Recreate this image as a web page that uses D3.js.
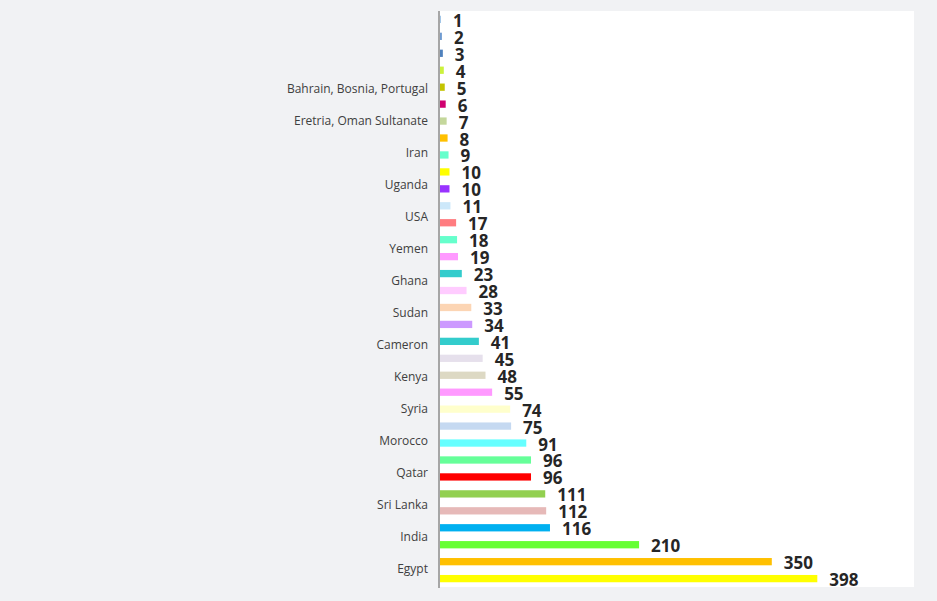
<!DOCTYPE html>
<html>
<head>
<meta charset="utf-8">
<script src="https://cdn.jsdelivr.net/npm/d3@7"></script>
<style>
  body { margin: 0; background: #f1f2f4; }
  svg { display: block; }
</style>
</head>
<body>
<div class="chart"></div>
<script>
// bar values, top to bottom
const values = [1, 2, 3, 4, 5, 6, 7, 8, 9, 10, 10, 11, 17, 18, 19, 23, 28, 33, 34,
  41, 45, 48, 55, 74, 75, 91, 96, 96, 111, 112, 116, 210, 350, 398]

const barColors = ['#9dc3e6', '#6f9bd1', '#4f81bd', '#ccf23c', '#c4c400', '#d0006f',
  '#c4d79b', '#ffc000', '#66ffcc', '#ffff00', '#9933ff', '#cce8fa', '#ff7c80',
  '#66ffcc', '#ff99ff', '#33cccc', '#ffccff', '#fcd5b4', '#cc99ff', '#33cccc',
  '#e6e0ec', '#ddd9c4', '#ff99ff', '#ffffcc', '#c5d9f1', '#66ffff', '#66ff99',
  '#ff0000', '#92d050', '#e6b9b8', '#00b0f0', '#66ff33', '#ffc000', '#ffff00']

// category labels (axis shows 18 slots, first two are empty)
const categories = ['', ' ', 'Bahrain, Bosnia, Portugal', 'Eretria, Oman Sultanate',
  'Iran', 'Uganda', 'USA', 'Yemen', 'Ghana', 'Sudan', 'Cameron', 'Kenya', 'Syria',
  'Morocco', 'Qatar', 'Sri Lanka', 'India', 'Egypt']

const xMaxValue = 500

const width = 937
const height = 601
const plot = { left: 440, right: 914, top: 11, bottom: 587 }

const svg = d3.select('.chart').append('svg')
  .attr('width', width).attr('height', height)

svg.append('rect')
  .attr('x', 0).attr('y', 0).attr('width', width).attr('height', height)
  .attr('fill', '#f1f2f4')

// plot area
svg.append('rect')
  .attr('x', plot.left).attr('y', plot.top)
  .attr('width', plot.right - plot.left).attr('height', plot.bottom - plot.top)
  .attr('fill', '#ffffff')

const xScale = d3.scaleLinear().domain([0, xMaxValue]).range([plot.left, plot.right])
const yBars = d3.scaleBand().domain(d3.range(values.length))
  .range([plot.top, plot.bottom]).paddingInner(0.57).paddingOuter(0.28)
const yCats = d3.scaleBand().domain(categories).range([plot.top, plot.bottom])

// bars
svg.append('g').attr('class', 'bars')
  .selectAll('rect').data(values)
  .enter().append('rect')
  .attr('x', xScale(0))
  .attr('y', (d, i) => yBars(i))
  .attr('width', d => xScale(d) - xScale(0))
  .attr('height', yBars.bandwidth())
  .attr('fill', (d, i) => barColors[i])

// value labels
svg.append('g').attr('class', 'value-labels')
  .selectAll('text').data(values)
  .enter().append('text')
  .attr('x', d => xScale(d) + 12)
  .attr('y', (d, i) => yBars(i) + yBars.bandwidth() / 2 + 1)
  .attr('dominant-baseline', 'central')
  .style('font-family', '"Open Sans", sans-serif')
  .style('font-size', '17px')
  .style('font-weight', 'bold')
  .style('fill', '#262626')
  .text(d => d)

// category axis
const yAxis = d3.axisLeft(yCats).tickSize(0).tickPadding(12)
const yAxisDraw = svg.append('g').attr('class', 'y axis')
  .attr('transform', `translate(${plot.left},0)`)
  .call(yAxis)

yAxisDraw.select('.domain').attr('stroke', '#a6a6a6').attr('stroke-width', 2)
  .attr('d', `M-1,${plot.top}V${plot.bottom + 1}`)
yAxisDraw.selectAll('text')
  .attr('y', -2)
  .style('font-family', '"Open Sans", sans-serif')
  .style('font-size', '12px')
  .style('fill', '#404040')
</script>
</body>
</html>
